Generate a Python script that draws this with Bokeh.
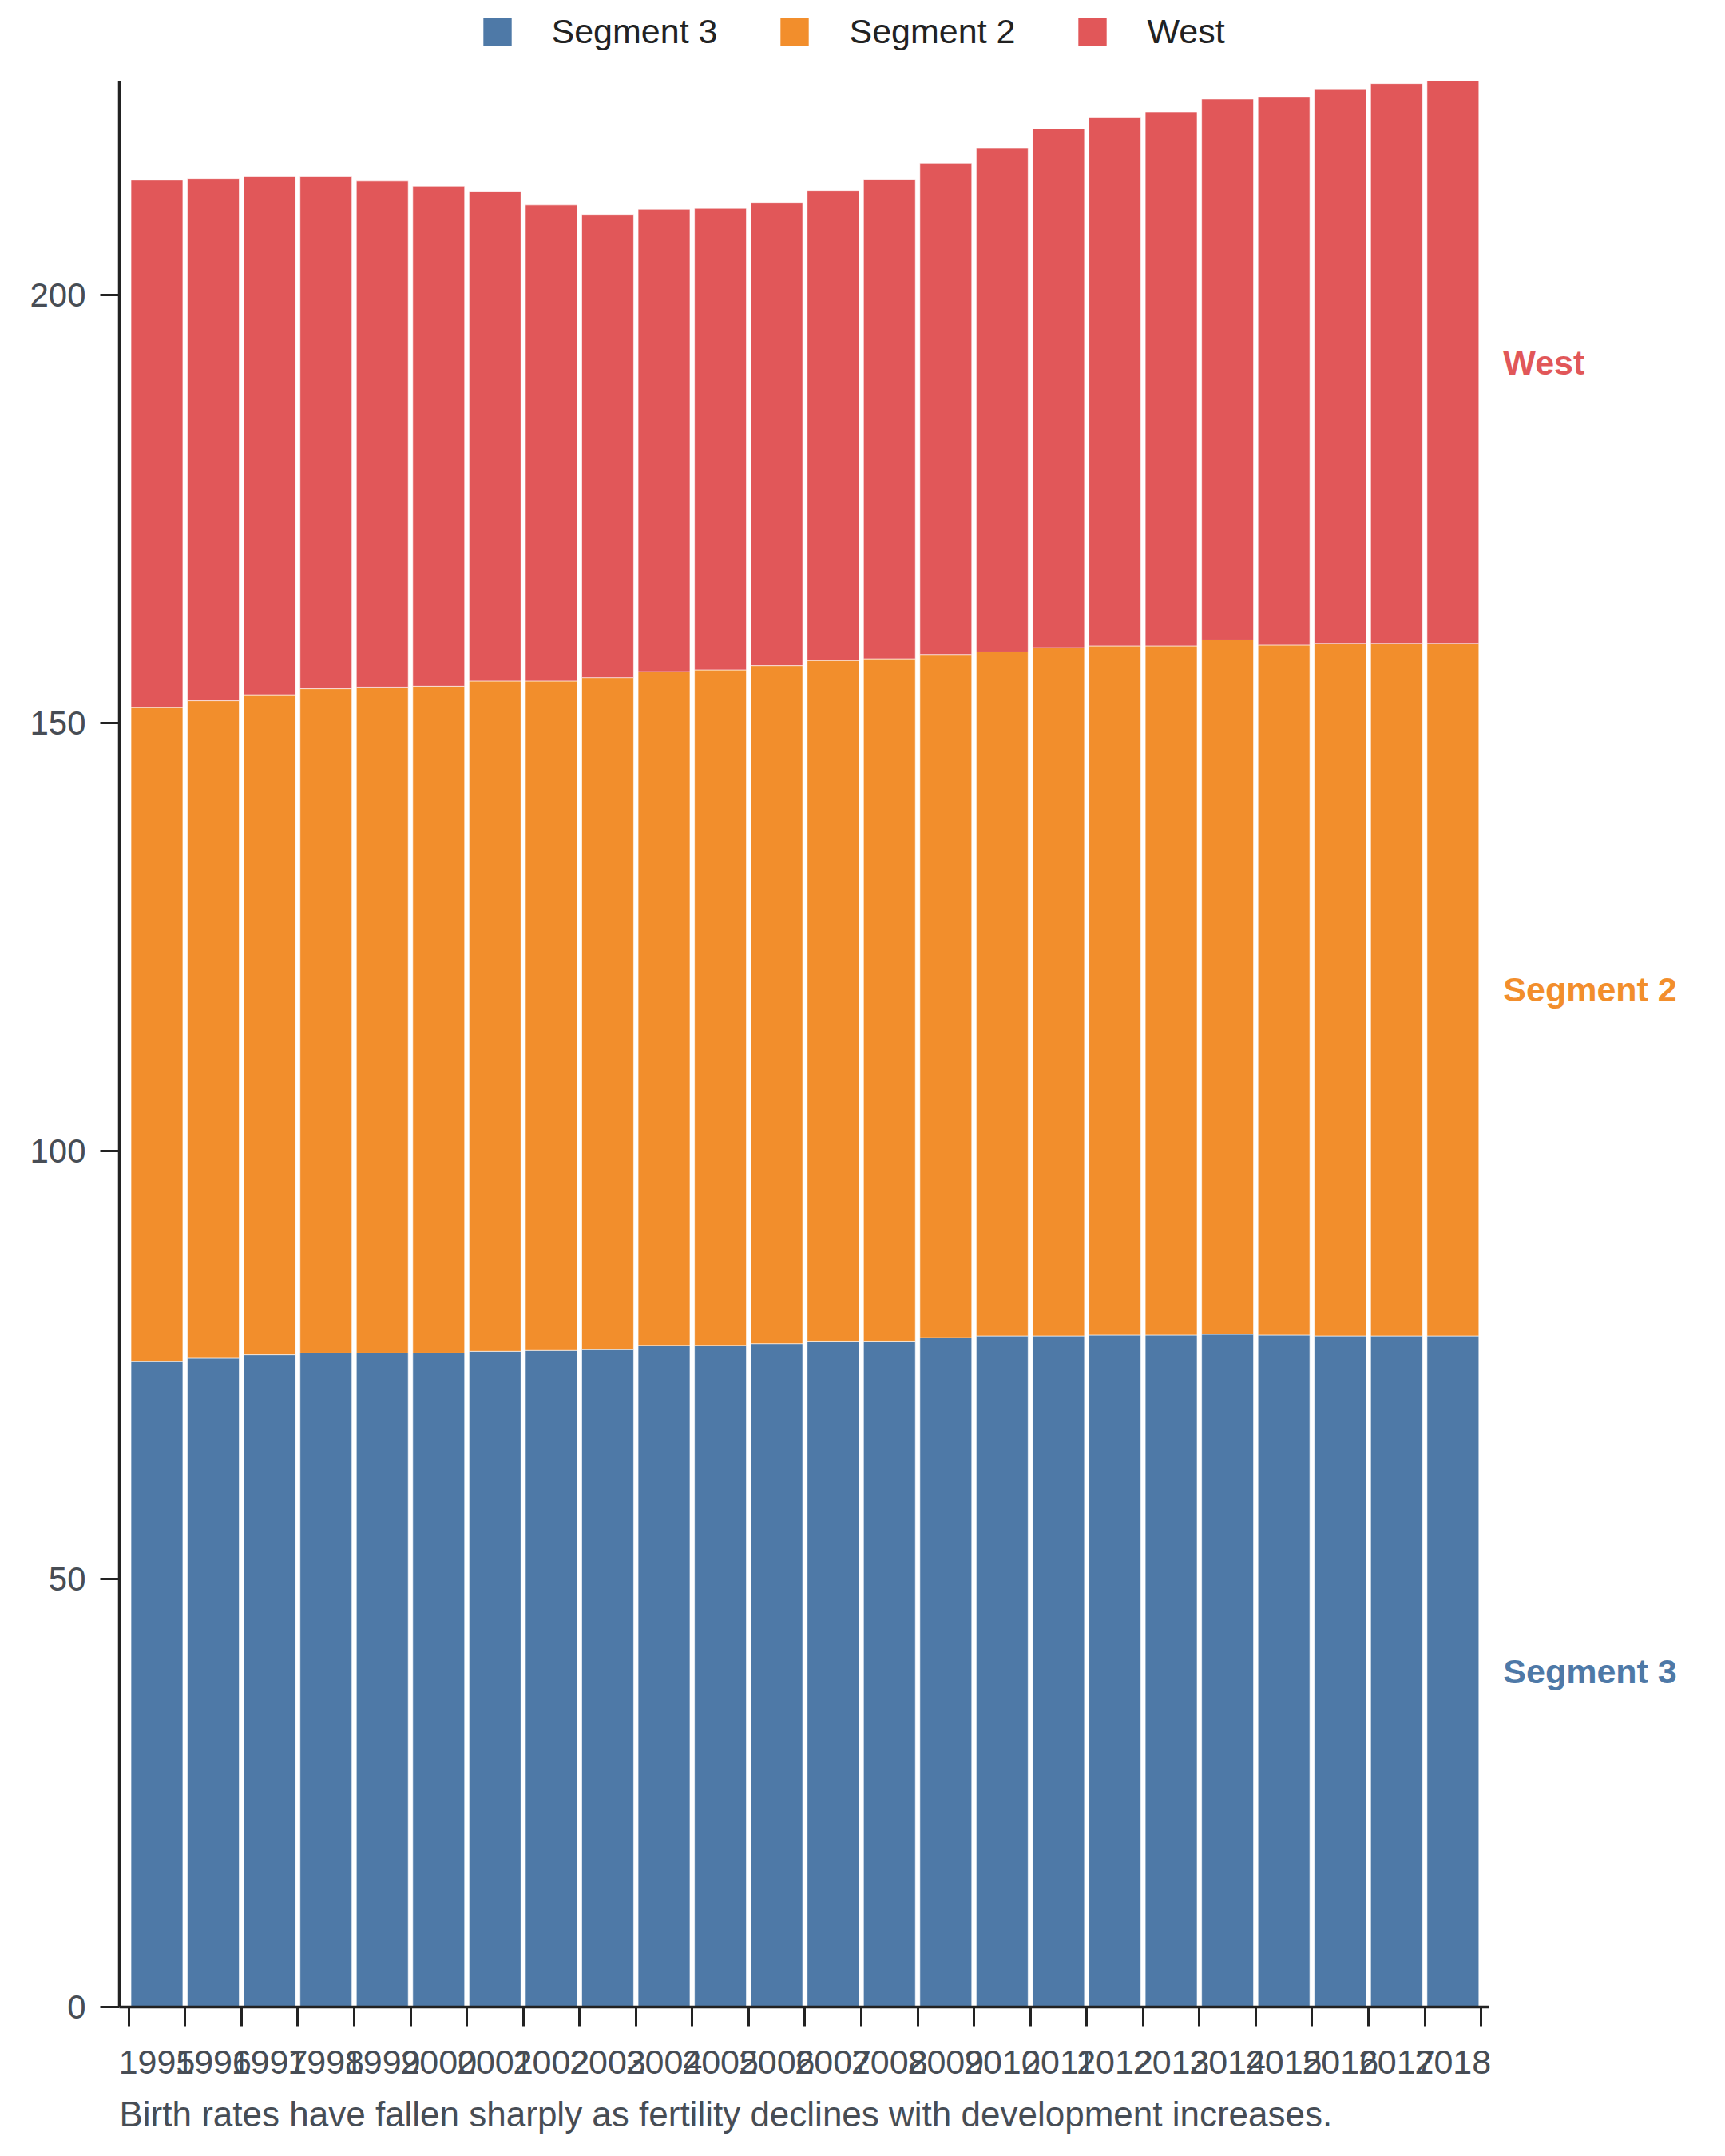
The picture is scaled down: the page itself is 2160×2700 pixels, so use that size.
from bokeh.plotting import figure
from bokeh.models import (ColumnDataSource, Range1d, FixedTicker, Legend, LegendItem,
                          LabelSet, Title)
from bokeh.core.properties import value
from bokeh.embed import file_html
from bokeh.resources import INLINE

years = ["1995", "1996", "1997", "1998", "1999", "2000", "2001", "2002", "2003", "2004",
         "2005", "2006", "2007", "2008", "2009", "2010", "2011", "2012", "2013", "2014",
         "2015", "2016", "2017", "2018"]
segment3 = [75.4, 75.8, 76.2, 76.4, 76.4, 76.4, 76.6, 76.7, 76.8, 77.3, 77.3, 77.5,
            77.8, 77.8, 78.2, 78.4, 78.4, 78.5, 78.5, 78.6, 78.5, 78.4, 78.4, 78.4]
segment2 = [76.4, 76.8, 77.1, 77.6, 77.8, 77.9, 78.3, 78.2, 78.5, 78.7, 78.9, 79.2,
            79.5, 79.7, 79.8, 79.9, 80.4, 80.5, 80.5, 81.1, 80.6, 80.9, 80.9, 80.9]
west = [61.6, 61.0, 60.5, 59.8, 59.1, 58.4, 57.2, 55.6, 54.1, 54.0, 53.9, 54.1,
        54.9, 56.0, 57.4, 58.9, 60.6, 61.7, 62.4, 63.2, 64.0, 64.7, 65.4, 65.7]
series_names = ["Segment 3", "Segment 2", "West"]
series_colors = ["#4e79a7", "#f28e2c", "#e15759"]
y_ticks = [0, 50, 100, 150, 200]
caption = "Birth rates have fallen sharply as fertility declines with development increases."

n = len(years)
idx = list(range(n))
totals = [a + b + c for a, b, c in zip(segment3, segment2, west)]
y_max = max(totals)

FONT = "Liberation Sans"
TEXT_GREY = "#474d55"
W, H = 2144, 2692
# layout (pixels on the canvas)
LEFT, BOTTOM = 149, 2515          # frame left / frame bottom (x axis)
AXIS_RIGHT, AXIS_TOP = 1864, 101  # where the drawn axes end
x0, x1 = -0.666, n - 1 + 0.64     # axis extent in data units
x_end = x0 + (x1 - x0) * (W - LEFT) / (AXIS_RIGHT - LEFT)
y_end = y_max * BOTTOM / (BOTTOM - AXIS_TOP)

source = ColumnDataSource(dict(x=idx, year=years, s3=segment3, s2=segment2, w=west))

p = figure(width=W, height=H, output_backend="svg", toolbar_location=None,
           x_range=Range1d(x0, x_end), y_range=Range1d(0, y_end),
           min_border_left=LEFT, min_border_right=0, min_border_top=0,
           min_border_bottom=H - BOTTOM)
p.outline_line_color = None
p.xgrid.visible = False
p.ygrid.visible = False
p.background_fill_color = "white"
p.border_fill_color = "white"

rs = p.vbar_stack(["s3", "s2", "w"], x="x", width=0.92, color=series_colors,
                  line_color="white", line_width=1, line_alpha=0.6, source=source)

# x axis: labels at band centres, ticks at band boundaries (minor ticks)
xa = p.xaxis[0]
xa.bounds = (x0, x1)
xa.ticker = FixedTicker(ticks=idx, minor_ticks=[i - 0.5 for i in range(n + 1)])
xa.major_label_overrides = {i: y for i, y in zip(idx, years)}
xa.major_tick_line_color = None
xa.major_tick_out = 0
xa.major_tick_in = 0
xa.minor_tick_line_color = "#222222"
xa.minor_tick_line_width = 3
xa.minor_tick_out = 24
xa.minor_tick_in = 0
xa.axis_line_color = "#222222"
xa.axis_line_width = 3.5
xa.major_label_text_font = FONT
xa.major_label_text_font_size = "43px"
xa.major_label_text_color = TEXT_GREY
xa.major_label_standoff = 30

ya = p.yaxis[0]
ya.bounds = (0, y_max)
ya.ticker = FixedTicker(ticks=y_ticks)
ya.minor_tick_line_color = None
ya.major_tick_line_color = "#222222"
ya.major_tick_line_width = 3
ya.major_tick_out = 24
ya.major_tick_in = 0
ya.axis_line_color = "#222222"
ya.axis_line_width = 3.5
ya.major_label_text_font = FONT
ya.major_label_text_font_size = "42px"
ya.major_label_text_color = TEXT_GREY
ya.major_label_standoff = 18

legend = Legend(items=[LegendItem(label=nm, renderers=[r]) for nm, r in zip(series_names, rs)],
                orientation="horizontal", location=(599.5 - LEFT, BOTTOM - 18 - 48),
                glyph_width=45, glyph_height=45, label_standoff=46, spacing=74,
                padding=0, margin=0, border_line_color=None, background_fill_alpha=0,
                label_text_font=FONT, label_text_font_size="43px",
                label_text_color="#222222")
p.add_layout(legend, "center")

# end labels at the middle of each segment of the last bar
last = n - 1
mids = [segment3[last] / 2,
        segment3[last] + segment2[last] / 2,
        segment3[last] + segment2[last] + west[last] / 2]
lab_src = ColumnDataSource(dict(x=[last] * 3, y=mids, text=series_names, color=series_colors))
p.add_layout(LabelSet(x="x", y="y", text="text", source=lab_src, x_offset=63,
                      text_color="color", text_font=value(FONT), text_font_size=value("43px"),
                      text_font_style=value("bold"), text_baseline=value("middle"),
                      text_align=value("left")))

# caption below the axis, left aligned with the frame
p.add_layout(Title(text=caption, align="left", text_font=FONT, text_font_size="44px",
                   text_font_style="normal", text_color=TEXT_GREY, standoff=42), "below")

open("out.html", "w").write(file_html(p, INLINE))
